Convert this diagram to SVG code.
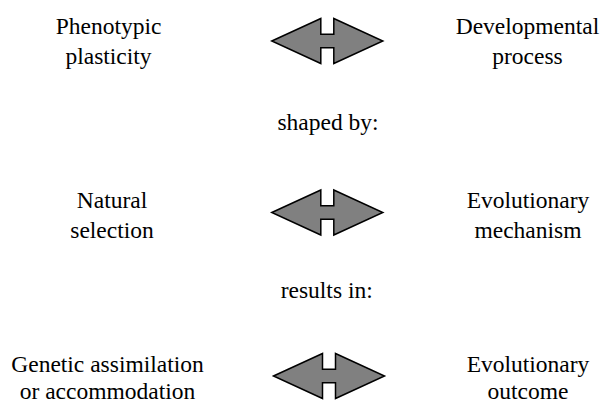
<svg xmlns="http://www.w3.org/2000/svg" xmlns:xlink="http://www.w3.org/1999/xlink" width="604" height="403" viewBox="0 0 604 403">
<style>
.t{font-family:'Liberation Serif','Times New Roman',serif;font-size:23.5px;fill:#000;text-anchor:middle}
.arr{fill:#808080;stroke:#000;stroke-width:1.5;stroke-linejoin:miter}
</style>
<defs>
<path id="dbl" class="arr" d="M-55.5,0 L-6.5,-22.5 L-6.5,-6.7 L6.5,-6.7 L6.5,-22.5 L55.5,0 L6.5,22.5 L6.5,6.7 L-6.5,6.7 L-6.5,22.5 Z"/>
</defs>
<rect width="604" height="403" fill="#fff"/>
<g id="connectors">
<use xlink:href="#dbl" transform="translate(327.3,41)"/>
<use xlink:href="#dbl" transform="translate(327.3,212.5)"/>
<use xlink:href="#dbl" transform="translate(329,376)"/>
</g>
<g class="t">
<g id="phenotypic-plasticity"><text x="108.5" y="34">Phenotypic</text><text x="108.5" y="64">plasticity</text></g>
<g id="developmental-process"><text x="527.5" y="34">Developmental</text><text x="527.5" y="64">process</text></g>
<g id="shaped-by"><text x="328" y="130">shaped by:</text></g>
<g id="natural-selection"><text x="112" y="207.5">Natural</text><text x="112" y="237.5">selection</text></g>
<g id="evolutionary-mechanism"><text x="528" y="207.5">Evolutionary</text><text x="528" y="237.5">mechanism</text></g>
<g id="results-in"><text x="326.7" y="298">results in:</text></g>
<g id="genetic-assimilation"><text x="107.5" y="371.5">Genetic assimilation</text><text x="107.5" y="399">or accommodation</text></g>
<g id="evolutionary-outcome"><text x="528" y="371.5">Evolutionary</text><text x="528" y="399">outcome</text></g>
</g>
</svg>
